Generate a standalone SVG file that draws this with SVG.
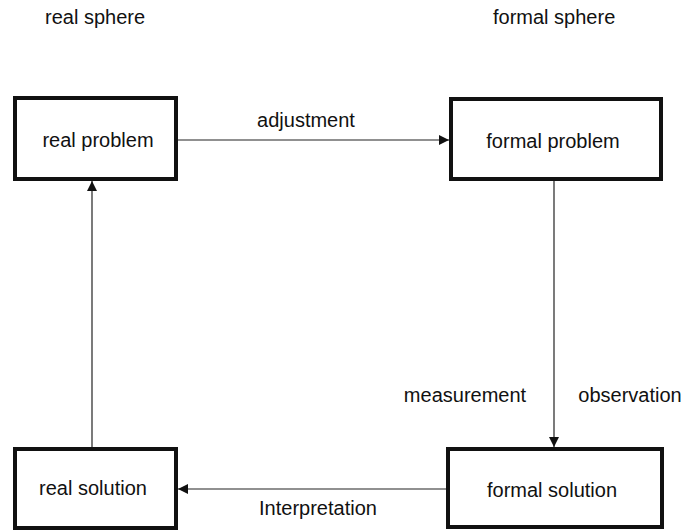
<svg xmlns="http://www.w3.org/2000/svg" width="686" height="532" viewBox="0 0 686 532">
<style>
text{font-family:"Liberation Sans",Arial,sans-serif;font-size:20px;fill:#111}
.box{fill:#fff;stroke:#111;stroke-width:4}
.c{stroke:#222;stroke-width:1.2;fill:none}
</style>
<defs>
<marker id="ah" viewBox="0 0 10 10" refX="10" refY="5" markerWidth="12" markerHeight="10" markerUnits="userSpaceOnUse" orient="auto">
<path d="M0,0 L10,5 L0,10 Z" fill="#111"/>
</marker>
</defs>
<rect width="686" height="532" fill="#fff"/>
<text x="45" y="24">real sphere</text>
<text x="493" y="24">formal sphere</text>
<g id="connectors">
<line class="c" x1="178" y1="140" x2="449" y2="140" marker-end="url(#ah)"/>
<line class="c" x1="554" y1="181" x2="554" y2="447" marker-end="url(#ah)"/>
<line class="c" x1="446" y1="489" x2="178" y2="489" marker-end="url(#ah)"/>
<line class="c" x1="92" y1="447" x2="92" y2="181" marker-end="url(#ah)"/>
<text x="306" y="127" text-anchor="middle">adjustment</text>
<text x="318" y="515" text-anchor="middle">Interpretation</text>
<text x="465" y="402" text-anchor="middle">measurement</text>
<text x="630" y="402" text-anchor="middle">observation</text>
</g>
<g id="real-problem">
<rect class="box" x="15" y="98" width="161" height="81"/>
<text x="98" y="147" text-anchor="middle">real problem</text>
</g>
<g id="formal-problem">
<rect class="box" x="451" y="99" width="210" height="80"/>
<text x="553" y="148" text-anchor="middle">formal problem</text>
</g>
<g id="formal-solution">
<rect class="box" x="448" y="449" width="214" height="78"/>
<text x="552" y="497" text-anchor="middle">formal solution</text>
</g>
<g id="real-solution">
<rect class="box" x="15" y="449" width="161" height="79"/>
<text x="93" y="495" text-anchor="middle">real solution</text>
</g>
</svg>
